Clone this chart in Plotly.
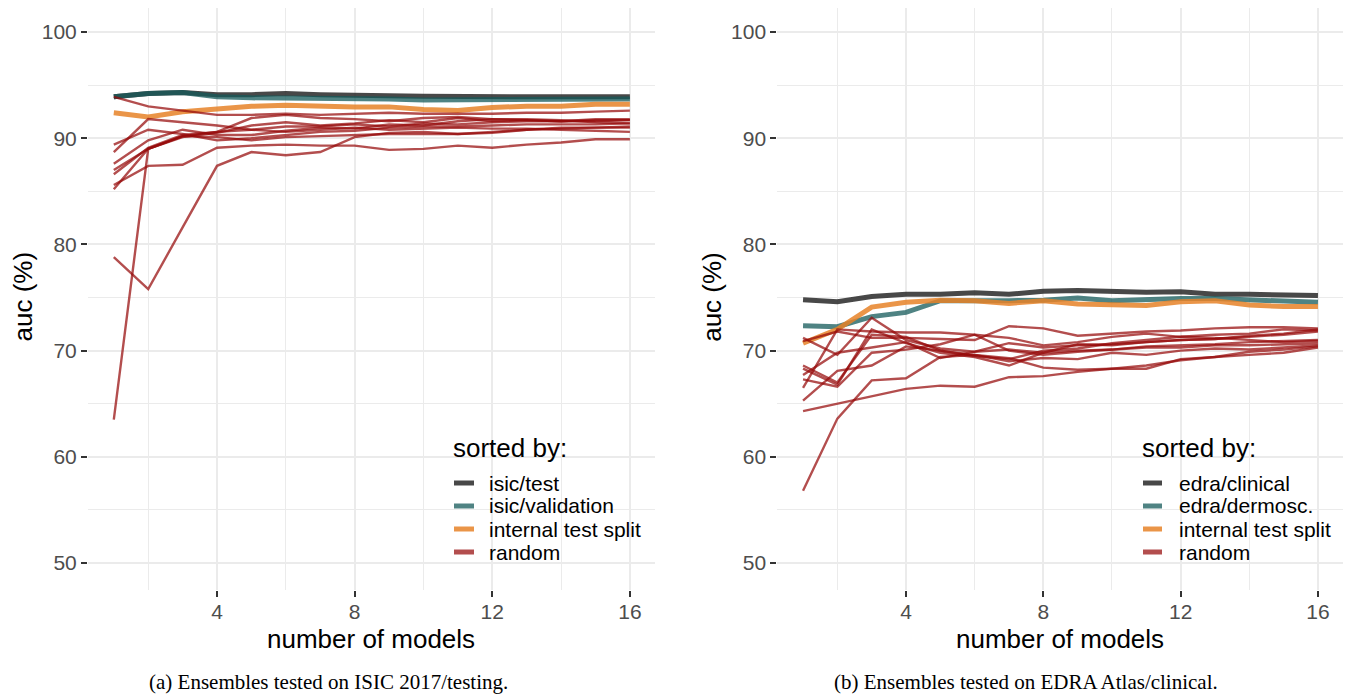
import plotly.graph_objects as go

# ---------------- data ----------------
n_models = [1, 2, 3, 4, 5, 6, 7, 8, 9, 10, 11, 12, 13, 14, 15, 16]

# Panel (a): ensembles tested on ISIC 2017/testing
isic_test = [93.9, 94.2, 94.3, 94.1, 94.1, 94.2, 94.1, 94.0, 94.0, 93.95, 93.9, 93.9, 93.9, 93.9, 93.9, 93.9]
isic_validation = [93.9, 94.2, 94.3, 93.9, 93.8, 93.8, 93.8, 93.8, 93.7, 93.6, 93.6, 93.6, 93.7, 93.7, 93.7, 93.7]
isic_internal = [92.4, 92.0, 92.5, 92.8, 93.0, 93.1, 93.0, 92.95, 92.95, 92.7, 92.6, 92.9, 93.0, 93.0, 93.2, 93.2]
isic_random = [
    [93.9, 93.0, 92.6, 92.2, 92.2, 92.3, 92.2, 92.3, 92.4, 92.3, 92.3, 92.3, 92.4, 92.4, 92.5, 92.6],
    [89.4, 90.8, 90.4, 89.8, 90.0, 90.3, 90.6, 90.7, 91.0, 91.1, 91.1, 91.2, 91.3, 91.3, 91.3, 91.4],
    [88.7, 91.8, 91.5, 91.2, 90.8, 90.6, 90.8, 91.0, 90.8, 90.9, 91.0, 90.9, 90.9, 90.8, 90.7, 90.6],
    [87.6, 89.8, 90.8, 90.3, 90.3, 90.7, 91.0, 90.9, 91.3, 91.2, 91.6, 91.8, 91.7, 91.6, 91.6, 91.7],
    [87.0, 89.0, 90.1, 90.5, 91.2, 91.5, 91.2, 91.4, 91.7, 91.5, 91.9, 91.6, 91.7, 91.6, 91.8, 91.8],
    [86.6, 89.1, 90.3, 90.6, 90.8, 91.1, 91.1, 91.3, 91.1, 91.4, 91.3, 91.5, 91.6, 91.6, 91.7, 91.7],
    [85.6, 87.4, 87.5, 89.1, 89.3, 89.4, 89.3, 89.3, 88.9, 89.0, 89.3, 89.1, 89.4, 89.6, 89.9, 89.9],
    [85.2, 89.0, 90.2, 90.1, 89.8, 90.1, 90.2, 90.3, 90.4, 90.4, 90.4, 90.6, 90.8, 90.9, 91.0, 91.0],
    [78.8, 75.8, 81.6, 87.4, 88.7, 88.4, 88.7, 90.1, 90.5, 90.6, 90.4, 90.5, 90.8, 91.0, 91.0, 91.1],
    [63.5, 89.0, 90.2, 90.6, 91.9, 92.2, 91.9, 91.8, 91.6, 91.9, 92.0, 91.8, 91.8, 91.7, 91.5, 91.4],
]

# Panel (b): ensembles tested on EDRA Atlas/clinical
edra_clinical = [74.8, 74.6, 75.1, 75.3, 75.3, 75.45, 75.3, 75.6, 75.65, 75.55, 75.5, 75.55, 75.3, 75.3, 75.2, 75.2]
edra_dermosc = [72.35, 72.25, 73.2, 73.6, 74.7, 74.65, 74.7, 74.75, 74.95, 74.7, 74.85, 74.9, 74.9, 74.75, 74.65, 74.55]
edra_internal = [70.7, 72.0, 74.1, 74.55, 74.75, 74.7, 74.45, 74.7, 74.4, 74.35, 74.25, 74.6, 74.7, 74.3, 74.15, 74.15]
edra_random = [
    [71.2, 69.6, 73.1, 71.0, 70.2, 69.9, 70.1, 69.8, 70.0, 70.1, 70.4, 70.5, 70.6, 70.8, 70.9, 71.0],
    [70.9, 71.8, 71.2, 71.2, 71.1, 71.0, 72.3, 72.1, 71.4, 71.6, 71.8, 71.9, 72.1, 72.2, 72.2, 72.1],
    [68.6, 67.0, 71.5, 71.3, 70.0, 69.5, 69.2, 70.0, 70.2, 70.7, 71.0, 71.3, 71.5, 71.6, 72.0, 71.9],
    [67.7, 69.8, 70.3, 70.8, 69.3, 69.9, 70.7, 70.3, 70.5, 70.6, 70.8, 71.0, 71.1, 71.3, 71.5, 71.8],
    [67.3, 66.6, 69.8, 70.1, 70.6, 71.5, 70.0, 69.6, 69.9, 70.1, 70.3, 70.3, 70.5, 70.5, 70.6, 70.7],
    [66.5, 72.0, 71.8, 71.7, 71.7, 71.5, 71.2, 70.5, 70.8, 71.3, 71.6, 71.3, 71.2, 71.0, 70.8, 70.9],
    [65.3, 68.1, 68.6, 70.4, 70.0, 69.6, 69.0, 69.3, 69.2, 69.8, 69.6, 70.0, 70.2, 70.1, 70.3, 70.5],
    [64.3, 65.0, 65.7, 66.4, 66.7, 66.6, 67.5, 67.6, 68.0, 68.3, 68.6, 69.1, 69.4, 69.6, 69.8, 70.3],
    [56.8, 63.6, 67.2, 67.4, 69.4, 69.6, 69.3, 68.4, 68.2, 68.3, 68.3, 69.2, 69.4, 69.9, 70.1, 70.4],
    [68.3, 66.8, 72.0, 70.7, 69.8, 69.4, 68.6, 69.8, 70.6, 70.5, 70.8, 71.0, 71.1, 71.4, 71.6, 72.0],
]

labels_a = ["isic/test", "isic/validation", "internal test split", "random"]
labels_b = ["edra/clinical", "edra/dermosc.", "internal test split", "random"]
captions = ["(a) Ensembles tested on ISIC 2017/testing.", "(b) Ensembles tested on EDRA Atlas/clinical."]

x_ticks = [4, 8, 12, 16]
x_minor = [2, 6, 10, 14]
y_ticks = [50, 60, 70, 80, 90, 100]
y_minor = [55, 65, 75, 85, 95]

# ---------------- style ----------------
OFF = 8                      # default page margin of the HTML body
W, H = 1351 - OFF, 696 - OFF
C_DARK = "rgba(40,40,40,0.85)"
C_TEAL = "rgba(20,90,90,0.75)"
C_ORANGE = "rgba(230,130,40,0.85)"
C_RED = "rgba(150,10,10,0.72)"
main_colors = [C_DARK, C_TEAL, C_ORANGE]
SANS = "Liberation Sans, Arial, Helvetica, sans-serif"
SERIF = "Liberation Serif, Times New Roman, serif"
GRID = "#ebebeb"


def px_x(p):
    return min(1.0, max(0.0, (p - OFF) / W))


def px_y(p):
    return min(1.0, max(0.0, 1 - (p - OFF) / H))


fig = go.Figure()

panels = [
    dict(xa="x", ya="y", mains=[isic_test, isic_validation, isic_internal], rand=isic_random, labels=labels_a),
    dict(xa="x2", ya="y2", mains=[edra_clinical, edra_dermosc, edra_internal], rand=edra_random, labels=labels_b),
]

for pi, p in enumerate(panels):
    for k, series in enumerate(p["mains"]):
        fig.add_trace(go.Scatter(
            x=n_models, y=series, mode="lines", xaxis=p["xa"], yaxis=p["ya"],
            line=dict(color=main_colors[k], width=5), name=p["labels"][k], showlegend=False,
        ))
    for series in p["rand"]:
        fig.add_trace(go.Scatter(
            x=n_models, y=series, mode="lines", xaxis=p["xa"], yaxis=p["ya"],
            line=dict(color=C_RED, width=2.4), name="random", showlegend=False,
        ))

# plot area geometry (reference pixels)
left_x = [(88, 655), (777.3, 1343.0)]
top_px, bot_px = 8.0, 589.6
y_range = [47.5, 102.26]
x_range = [0.25, 16.73]


def xaxis_cfg(dom):
    return dict(
        domain=[px_x(dom[0]), px_x(dom[1])], range=x_range,
        tickvals=x_ticks, ticks="outside", ticklen=6, tickwidth=2, tickcolor="#333333",
        ticklabelstandoff=-3,
        tickfont=dict(family=SANS, size=21, color="#4d4d4d"),
        showgrid=True, gridcolor=GRID, gridwidth=2, zeroline=False, showline=False,
        minor=dict(tickvals=x_minor, showgrid=True, gridcolor=GRID, gridwidth=1.2, ticks=""),
    )


def yaxis_cfg(anchor):
    return dict(
        domain=[px_y(bot_px), px_y(top_px)], range=y_range, anchor=anchor,
        tickvals=y_ticks, ticks="outside", ticklen=6, tickwidth=2, tickcolor="#333333",
        tickfont=dict(family=SANS, size=21, color="#4d4d4d"),
        showgrid=True, gridcolor=GRID, gridwidth=2, zeroline=False, showline=False,
        minor=dict(tickvals=y_minor, showgrid=True, gridcolor=GRID, gridwidth=1.2, ticks=""),
    )


annotations = []
shapes = []

for pi, dom in enumerate(left_x):
    cx = (dom[0] + dom[1]) / 2
    annotations.append(dict(
        text="number of models", x=px_x(cx), y=px_y(639), xref="paper", yref="paper",
        showarrow=False, xanchor="center", yanchor="middle",
        font=dict(family=SANS, size=26, color="black"),
    ))
    annotations.append(dict(
        text="auc (%)", x=px_x(dom[0] - 65.5), y=px_y(297), xref="paper", yref="paper",
        showarrow=False, xanchor="center", yanchor="middle", textangle=-90,
        font=dict(family=SANS, size=26, color="black"),
    ))

# captions
cap_left = [147, 832]
for pi in range(2):
    annotations.append(dict(
        text=captions[pi], x=px_x(cap_left[pi]), y=px_y(682), xref="paper", yref="paper",
        showarrow=False, xanchor="left", yanchor="middle",
        font=dict(family=SERIF, size=21, color="black"),
    ))

# legends (manual, ggplot-like)
leg_title_x = [451, 1140]
leg_key_x = [(454, 474), (1143, 1162)]
leg_text_x = [487, 1177]
item_y = [483, 506, 529, 552]
legend_colors = [C_DARK, C_TEAL, C_ORANGE, C_RED]
for pi in range(2):
    labels = panels[pi]["labels"]
    annotations.append(dict(
        text="sorted by:", x=px_x(leg_title_x[pi]), y=px_y(448), xref="paper", yref="paper",
        showarrow=False, xanchor="left", yanchor="middle",
        font=dict(family=SANS, size=26, color="black"),
    ))
    for k in range(4):
        shapes.append(dict(
            type="line", xref="paper", yref="paper",
            x0=px_x(leg_key_x[pi][0]), x1=px_x(leg_key_x[pi][1]),
            y0=px_y(item_y[k]), y1=px_y(item_y[k]),
            line=dict(color=legend_colors[k], width=5),
        ))
        annotations.append(dict(
            text=labels[k], x=px_x(leg_text_x[pi]), y=px_y(item_y[k]), xref="paper", yref="paper",
            showarrow=False, xanchor="left", yanchor="middle",
            font=dict(family=SANS, size=21, color="black"),
        ))

fig.update_layout(
    width=W, height=H,
    margin=dict(l=0, r=0, t=0, b=0),
    paper_bgcolor="white", plot_bgcolor="white",
    showlegend=False,
    xaxis=xaxis_cfg(left_x[0]), yaxis=yaxis_cfg("x"),
    xaxis2=xaxis_cfg(left_x[1]), yaxis2=yaxis_cfg("x2"),
    annotations=annotations, shapes=shapes,
)

fig.write_html("out.html")
